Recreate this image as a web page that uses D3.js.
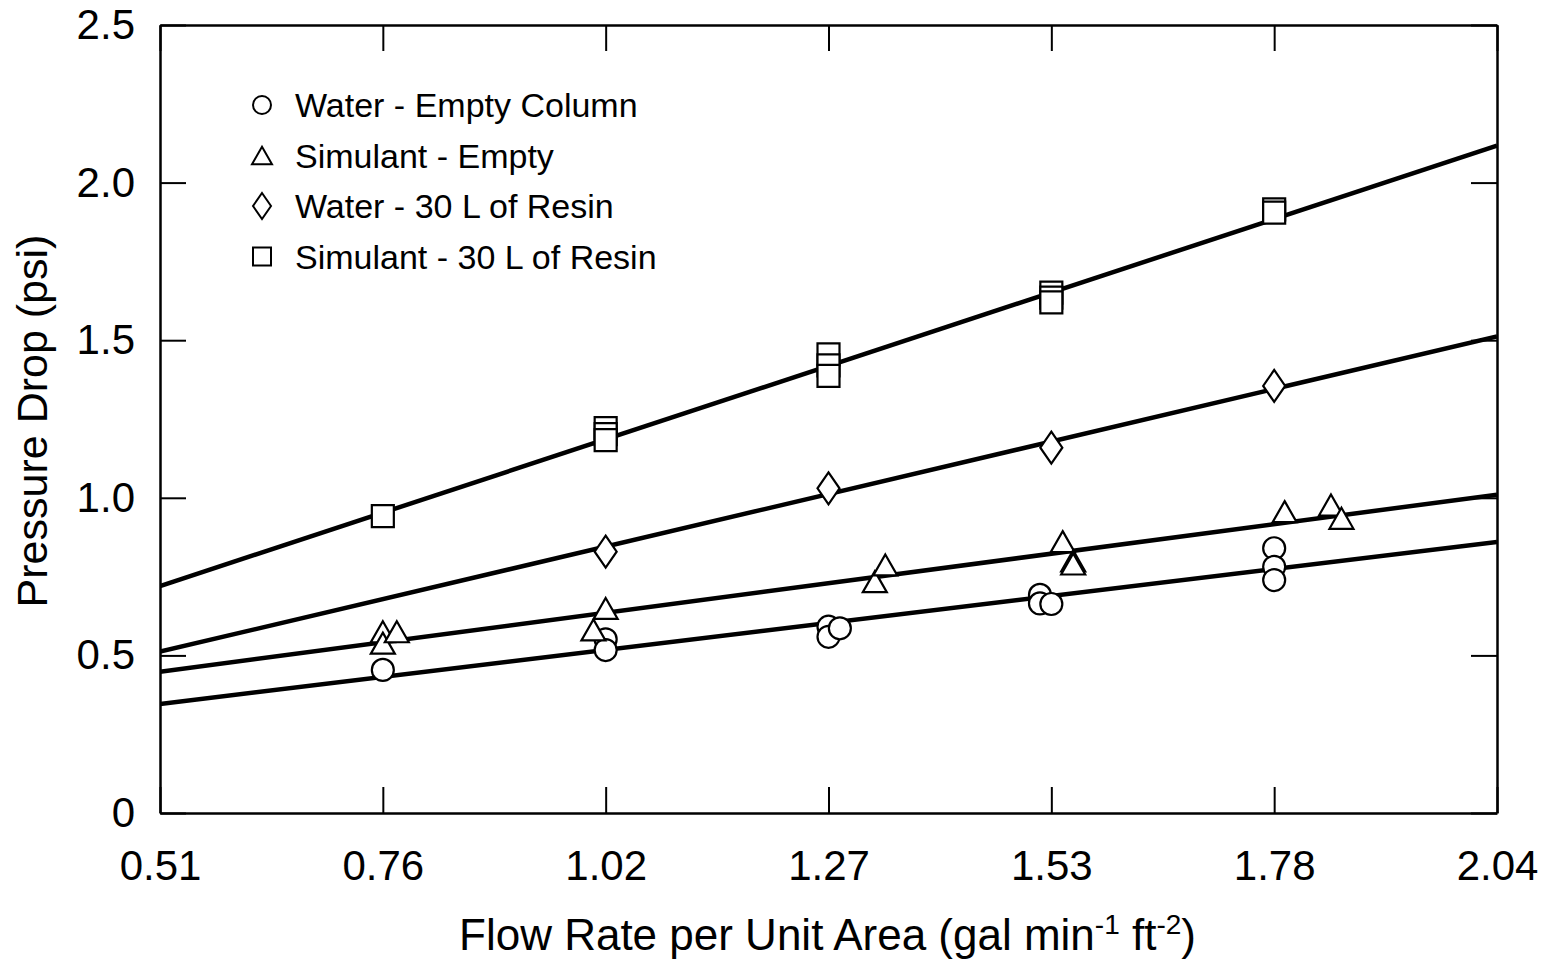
<!DOCTYPE html>
<html>
<head>
<meta charset="utf-8">
<script src="https://cdn.jsdelivr.net/npm/d3@7"></script>
<style>
  body { margin: 0; background: #fff; }
  svg { display: block; font-family: "Liberation Sans", Arial, sans-serif; }
</style>
</head>
<body>
<svg id="chart" width="1549" height="964"></svg>
<script>
// tick positions and labels
var xTicks = [0.51, 0.765, 1.02, 1.275, 1.53, 1.785, 2.04];
var xTickLabels = ['0.51', '0.76', '1.02', '1.27', '1.53', '1.78', '2.04'];
var yTicks = [0, 0.5, 1.0, 1.5, 2.0, 2.5];
var yTickLabels = ['0', '0.5', '1.0', '1.5', '2.0', '2.5'];

// Water - Empty Column (circles)
var waterEmptyX = [0.765, 1.02, 1.02, 1.275, 1.275, 1.288, 1.517, 1.517, 1.53, 1.785, 1.785, 1.785];
var waterEmptyY = [0.454, 0.551, 0.517, 0.591, 0.559, 0.586, 0.692, 0.665, 0.663, 0.840, 0.781, 0.739];

// Simulant - Empty (triangles)
var simEmptyX = [0.765, 0.765, 0.781, 1.006, 1.02, 1.328, 1.340, 1.543, 1.555, 1.555, 1.797, 1.85, 1.862];
var simEmptyY = [0.575, 0.539, 0.575, 0.581, 0.649, 0.734, 0.787, 0.861, 0.800, 0.790, 0.956, 0.977, 0.935];

// Water - 30 L of Resin (diamonds)
var waterResinX = [1.02, 1.275, 1.53, 1.785];
var waterResinY = [0.829, 1.030, 1.159, 1.355];

// Simulant - 30 L of Resin (squares)
var simResinX = [0.765, 1.02, 1.02, 1.02, 1.275, 1.275, 1.275, 1.53, 1.53, 1.53, 1.785, 1.785];
var simResinY = [0.942, 1.221, 1.202, 1.183, 1.455, 1.420, 1.387, 1.651, 1.635, 1.620, 1.915, 1.905];

// fitted lines, value at each end of the x range
var fitX = [0.51, 2.04];
var waterEmptyFit = [0.346, 0.860];
var simEmptyFit = [0.448, 1.010];
var waterResinFit = [0.512, 1.512];
var simResinFit = [0.720, 2.117];

var legendLabels = ['Water - Empty Column', 'Simulant - Empty', 'Water - 30 L of Resin', 'Simulant - 30 L of Resin'];

var margin = {top: 25, right: 52, bottom: 151, left: 160},
    width = 1549 - margin.left - margin.right,
    height = 964 - margin.top - margin.bottom;

var svg = d3.select('#chart');
var g = svg.append('g').attr('transform', 'translate(' + margin.left + ',' + margin.top + ')');

var x = d3.scaleLinear().domain([0.51, 2.04]).range([0, width]);
var y = d3.scaleLinear().domain([0, 2.5]).range([height, 0]);

// marker shapes, centred on 0,0
function markerPath(shape, s) {
    if (shape == 'circle') {
        return 'M' + s + ',0A' + s + ',' + s + ' 0 1,1 ' + (-s) + ',0A' + s + ',' + s + ' 0 1,1 ' + s + ',0Z';
    }
    if (shape == 'triangle') {
        var h = s * 1.75;
        return 'M0,' + (-h / 2) + 'L' + s + ',' + (h / 2) + 'L' + (-s) + ',' + (h / 2) + 'Z';
    }
    if (shape == 'diamond') {
        return 'M0,' + (-s * 1.45) + 'L' + s + ',0L0,' + (s * 1.45) + 'L' + (-s) + ',0Z';
    }
    return 'M' + (-s) + ',' + (-s) + 'H' + s + 'V' + s + 'H' + (-s) + 'Z';
}

var series = [
    {xs: waterEmptyX, ys: waterEmptyY, fit: waterEmptyFit, shape: 'circle', size: 11},
    {xs: simEmptyX, ys: simEmptyY, fit: simEmptyFit, shape: 'triangle', size: 12},
    {xs: waterResinX, ys: waterResinY, fit: waterResinFit, shape: 'diamond', size: 11},
    {xs: simResinX, ys: simResinY, fit: simResinFit, shape: 'square', size: 11}
];

g.append('clipPath').attr('id', 'plotClip')
  .append('rect').attr('width', width).attr('height', height);

var line = d3.line()
    .x(function(d) { return x(d[0]); })
    .y(function(d) { return y(d[1]); });

// regression lines
series.forEach(function(s) {
    g.append('path')
        .datum(fitX.map(function(v, i) { return [v, s.fit[i]]; }))
        .attr('d', line)
        .attr('clip-path', 'url(#plotClip)')
        .attr('fill', 'none')
        .attr('stroke', '#000')
        .attr('stroke-width', 4.5);
});

// points
series.forEach(function(s) {
    var pts = s.xs.map(function(v, i) { return [v, s.ys[i]]; });
    g.append('g').selectAll('path')
        .data(pts)
      .enter().append('path')
        .attr('transform', function(d) { return 'translate(' + x(d[0]) + ',' + y(d[1]) + ')'; })
        .attr('d', markerPath(s.shape, s.size))
        .attr('fill', '#fff')
        .attr('stroke', '#000')
        .attr('stroke-width', 2.2);
});

// axes, ticks pointing inward on all four sides
function styleAxis(sel) {
    sel.select('.domain').attr('stroke', '#000').attr('stroke-width', 2.5);
    sel.selectAll('.tick line').attr('stroke', '#000').attr('stroke-width', 2);
    sel.selectAll('.tick text').attr('fill', '#000').style('font-size', '42px');
}

var xAxis = g.append('g')
    .attr('transform', 'translate(0,' + height + ')')
    .call(d3.axisBottom(x).tickValues(xTicks)
        .tickFormat(function(d, i) { return xTickLabels[i]; })
        .tickSizeInner(-26).tickSizeOuter(0).tickPadding(37));
styleAxis(xAxis);
xAxis.selectAll('.tick text').attr('y', 37).attr('dy', '0.71em');

var yAxis = g.append('g')
    .call(d3.axisLeft(y).tickValues(yTicks)
        .tickFormat(function(d, i) { return yTickLabels[i]; })
        .tickSizeInner(-26).tickSizeOuter(0).tickPadding(25));
styleAxis(yAxis);
yAxis.selectAll('.tick text').attr('x', -25);

var topAxis = g.append('g')
    .call(d3.axisTop(x).tickValues(xTicks).tickFormat('')
        .tickSizeInner(-26).tickSizeOuter(0));
styleAxis(topAxis);

var rightAxis = g.append('g')
    .attr('transform', 'translate(' + width + ',0)')
    .call(d3.axisRight(y).tickValues(yTicks).tickFormat('')
        .tickSizeInner(-26).tickSizeOuter(0));
styleAxis(rightAxis);

// axis titles
g.append('text')
    .attr('transform', 'translate(' + (-113) + ',' + (height / 2 + 2) + ') rotate(-90)')
    .attr('text-anchor', 'middle')
    .style('font-size', '43px')
    .text('Pressure Drop (psi)');

var xTitle = g.append('text')
    .attr('x', (455 + 1200) / 2 - margin.left)
    .attr('y', height + 137)
    .attr('text-anchor', 'middle')
    .style('font-size', '44px');
xTitle.append('tspan').text('Flow Rate per Unit Area (gal min');
xTitle.append('tspan').attr('dy', -16).style('font-size', '28px').text('-1');
xTitle.append('tspan').attr('dy', 16).text(' ft');
xTitle.append('tspan').attr('dy', -16).style('font-size', '28px').text('-2');
xTitle.append('tspan').attr('dy', 16).text(')');

// legend
var legend = g.append('g').attr('transform', 'translate(102,80)');
var legendShapes = ['circle', 'triangle', 'diamond', 'square'];
var legendRow = legend.selectAll('g')
    .data(legendLabels)
  .enter().append('g')
    .attr('transform', function(d, i) { return 'translate(0,' + (i * 50.5) + ')'; });
legendRow.append('path')
    .attr('d', function(d, i) { return markerPath(legendShapes[i], legendShapes[i] == 'triangle' ? 10 : 9); })
    .attr('fill', '#fff')
    .attr('stroke', '#000')
    .attr('stroke-width', 2);
legendRow.append('text')
    .attr('x', 33)
    .attr('dy', '0.36em')
    .style('font-size', '34px')
    .text(function(d) { return d; });
</script>
</body>
</html>
